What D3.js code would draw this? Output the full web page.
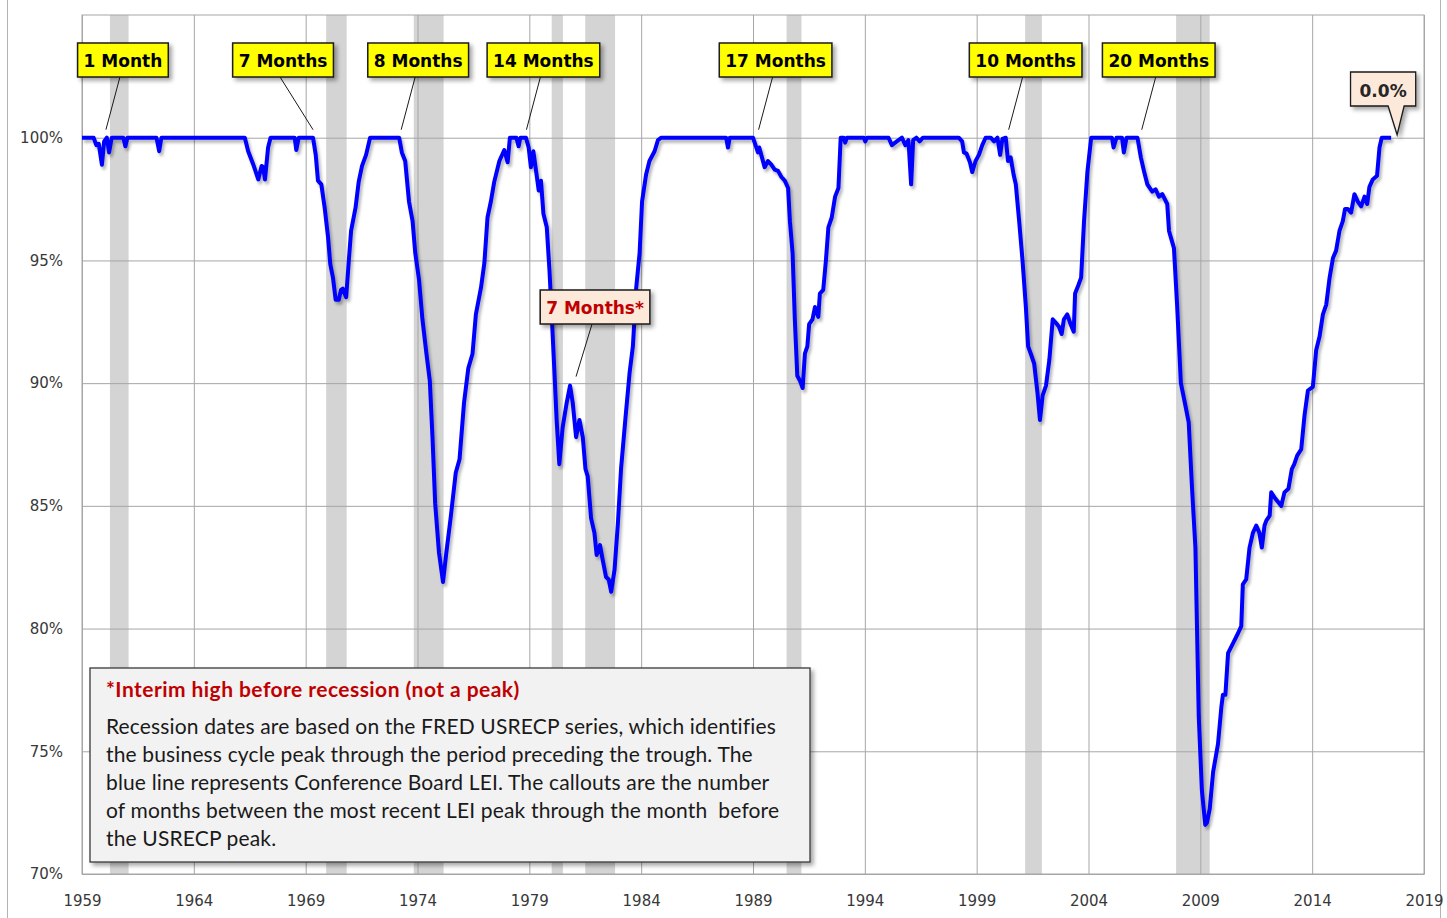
<!DOCTYPE html>
<html>
<head>
<meta charset="utf-8">
<script src="https://cdn.jsdelivr.net/npm/d3@7"></script>
<style>
  body { margin: 0; background: #fff; }
  .axis text { font-family: "DejaVu Sans", sans-serif; font-size: 15px; fill: #383838; }
  .axis line, .axis path { stroke: #a6a6a6; }
</style>
</head>
<body>
<svg id="chart"></svg>
<script>
// LEI as a percentage of its most recent peak: [decimal year, pct]
const leiPoints = [
  [1959.0, 100], [1959.52, 100], [1959.64, 99.7], [1959.75, 99.75], [1959.89, 98.9], [1959.99, 99.85],
  [1960.11, 100], [1960.21, 99.4], [1960.33, 100], [1960.85, 100], [1960.94, 99.65], [1961.03, 100],
  [1962.33, 100], [1962.45, 99.45], [1962.55, 100], [1966.28, 100], [1966.43, 99.45], [1966.66, 98.9],
  [1966.88, 98.3], [1967.03, 98.85], [1967.1, 98.8], [1967.18, 98.3], [1967.32, 99.6], [1967.43, 100],
  [1968.51, 100], [1968.58, 99.5], [1968.69, 100], [1969.33, 100], [1969.45, 99.3], [1969.55, 98.25],
  [1969.7, 98.1], [1969.85, 97.15], [1970.0, 95.95], [1970.1, 94.85], [1970.22, 94.3], [1970.34, 93.4],
  [1970.48, 93.4], [1970.58, 93.8], [1970.66, 93.85], [1970.81, 93.5], [1970.93, 95.0], [1971.03, 96.2],
  [1971.23, 97.15], [1971.37, 98.2], [1971.52, 98.85], [1971.7, 99.3], [1971.88, 100], [1973.18, 100],
  [1973.3, 99.4], [1973.45, 99.05], [1973.62, 97.4], [1973.78, 96.6], [1973.9, 95.3], [1974.07, 94.2],
  [1974.22, 92.6], [1974.4, 91.2], [1974.55, 90.1], [1974.67, 87.8], [1974.79, 85.1], [1974.96, 83.1],
  [1975.14, 81.9], [1975.29, 83.1], [1975.48, 84.5], [1975.71, 86.35], [1975.88, 86.9], [1976.08, 89.2],
  [1976.27, 90.6], [1976.46, 91.2], [1976.61, 92.8], [1976.84, 93.9], [1976.99, 94.9], [1977.13, 96.75],
  [1977.28, 97.4], [1977.43, 98.2], [1977.66, 99.05], [1977.88, 99.5], [1978.03, 99.0], [1978.13, 100],
  [1978.42, 100], [1978.52, 99.65], [1978.6, 100], [1978.85, 100], [1978.97, 99.6], [1979.07, 98.8],
  [1979.18, 99.45], [1979.3, 98.65], [1979.42, 97.85], [1979.52, 98.25], [1979.63, 96.9], [1979.78, 96.35],
  [1979.9, 94.6], [1980.01, 92.6], [1980.12, 90.5], [1980.22, 88.5], [1980.34, 86.7], [1980.49, 88.2],
  [1980.67, 89.2], [1980.82, 89.9], [1980.94, 89.2], [1981.09, 87.8], [1981.24, 88.5], [1981.39, 87.8],
  [1981.51, 86.5], [1981.61, 86.2], [1981.76, 84.5], [1981.91, 83.9], [1982.01, 83.0], [1982.16, 83.4],
  [1982.28, 82.8], [1982.43, 82.1], [1982.55, 82.0], [1982.66, 81.5], [1982.81, 82.4], [1982.96, 84.3],
  [1983.1, 86.5], [1983.3, 88.6], [1983.48, 90.4], [1983.63, 91.5], [1983.78, 93.9], [1983.93, 95.3],
  [1984.04, 97.4], [1984.22, 98.5], [1984.37, 99.05], [1984.6, 99.45], [1984.75, 99.9], [1984.9, 100],
  [1987.8, 100], [1987.88, 99.6], [1987.96, 100], [1989.0, 100], [1989.15, 99.6], [1989.22, 99.4],
  [1989.28, 99.6], [1989.37, 99.3], [1989.52, 98.8], [1989.67, 99.05], [1989.82, 98.9], [1989.97, 98.7],
  [1990.12, 98.65], [1990.27, 98.4], [1990.42, 98.25], [1990.57, 97.95], [1990.65, 96.6], [1990.77, 95.3],
  [1990.87, 92.6], [1990.98, 90.3], [1991.1, 90.1], [1991.22, 89.8], [1991.32, 91.2], [1991.43, 91.5],
  [1991.51, 92.4], [1991.66, 92.6], [1991.77, 93.1], [1991.92, 92.7], [1991.99, 93.65], [1992.14, 93.8],
  [1992.26, 95.0], [1992.37, 96.35], [1992.52, 96.75], [1992.67, 97.6], [1992.82, 97.95], [1992.92, 100],
  [1993.05, 100], [1993.12, 99.8], [1993.2, 100], [1993.95, 100], [1994.02, 99.85], [1994.1, 100],
  [1995.06, 100], [1995.21, 99.7], [1995.43, 99.85], [1995.66, 100], [1995.81, 99.7], [1995.95, 99.9],
  [1996.07, 98.1], [1996.16, 99.9], [1996.3, 100], [1996.45, 99.85], [1996.6, 100], [1998.2, 100],
  [1998.35, 99.85], [1998.43, 99.4], [1998.55, 99.35], [1998.7, 99.0], [1998.8, 98.6], [1998.95, 99.05],
  [1999.1, 99.3], [1999.25, 99.7], [1999.4, 100], [1999.63, 100], [1999.78, 99.85], [1999.93, 100],
  [2000.05, 99.3], [2000.15, 99.95], [2000.3, 100], [2000.4, 99.05], [2000.52, 99.2], [2000.65, 98.5],
  [2000.75, 98.1], [2000.9, 96.6], [2001.05, 95.0], [2001.2, 93.1], [2001.3, 91.5], [2001.42, 91.2],
  [2001.57, 90.8], [2001.72, 89.6], [2001.83, 88.5], [2001.95, 89.5], [2002.1, 89.9], [2002.25, 90.95],
  [2002.4, 92.6], [2002.55, 92.45], [2002.68, 92.3], [2002.8, 92.0], [2002.9, 92.6], [2003.05, 92.8],
  [2003.2, 92.4], [2003.34, 92.1], [2003.4, 93.65], [2003.55, 94.0], [2003.67, 94.3], [2003.8, 96.6],
  [2003.95, 98.6], [2004.12, 100], [2005.05, 100], [2005.12, 99.6], [2005.25, 100], [2005.5, 100],
  [2005.58, 99.4], [2005.7, 100], [2006.19, 100], [2006.34, 99.2], [2006.49, 98.6], [2006.63, 98.1],
  [2006.85, 97.8], [2007.0, 97.9], [2007.15, 97.6], [2007.3, 97.7], [2007.52, 97.3], [2007.6, 96.2],
  [2007.82, 95.5], [2007.96, 93.2], [2008.13, 90.0], [2008.33, 89.1], [2008.48, 88.4], [2008.63, 85.7],
  [2008.78, 83.3], [2008.85, 80.1], [2008.93, 76.4], [2009.07, 73.4], [2009.22, 72.0], [2009.3, 72.1],
  [2009.42, 72.65], [2009.57, 74.15], [2009.79, 75.3], [2009.94, 76.8], [2010.01, 77.3], [2010.12, 77.3],
  [2010.24, 79.0], [2010.46, 79.4], [2010.68, 79.8], [2010.83, 80.1], [2010.9, 81.8], [2011.05, 82.0],
  [2011.2, 83.3], [2011.35, 83.9], [2011.5, 84.2], [2011.64, 83.9], [2011.75, 83.3], [2011.87, 84.2],
  [2011.95, 84.4], [2012.1, 84.6], [2012.17, 85.55], [2012.35, 85.3], [2012.62, 85.0], [2012.76, 85.55],
  [2012.94, 85.7], [2013.09, 86.5], [2013.2, 86.7], [2013.33, 87.05], [2013.51, 87.3], [2013.66, 88.7],
  [2013.81, 89.7], [2014.03, 89.85], [2014.18, 91.35], [2014.33, 91.9], [2014.48, 92.8], [2014.63, 93.2],
  [2014.78, 94.3], [2014.93, 95.1], [2015.07, 95.4], [2015.22, 96.2], [2015.37, 96.6], [2015.47, 97.1],
  [2015.59, 97.1], [2015.74, 96.95], [2015.89, 97.7], [2016.04, 97.4], [2016.19, 97.2], [2016.34, 97.6],
  [2016.46, 97.3], [2016.56, 98.0], [2016.71, 98.3], [2016.9, 98.45], [2017.01, 99.6], [2017.11, 100],
  [2017.53, 100]
];

// USRECP recession periods (first month, month after last)
const recessions = [
  ["1960-04", "1961-02"], ["1969-12", "1970-11"], ["1973-11", "1975-03"], ["1980-01", "1980-07"],
  ["1981-07", "1982-11"], ["1990-07", "1991-03"], ["2001-03", "2001-12"], ["2007-12", "2009-06"]
];

const yearTicks = [1959, 1964, 1969, 1974, 1979, 1984, 1989, 1994, 1999, 2004, 2009, 2014, 2019];
const pctTicks = [70, 75, 80, 85, 90, 95, 100];

// months between LEI peak and the month before the USRECP peak
const peakCallouts = [
  { label: "1 Month", year: 1960.07, pct: 100 },
  { label: "7 Months", year: 1969.33, pct: 100 },
  { label: "8 Months", year: 1973.27, pct: 100 },
  { label: "14 Months", year: 1978.87, pct: 100 },
  { label: "17 Months", year: 1989.25, pct: 100 },
  { label: "10 Months", year: 2000.43, pct: 100 },
  { label: "20 Months", year: 2006.38, pct: 100 }
];
const interimCallout = { label: "7 Months*", year: 1980.82, pct: 89.9 };
const latestCallout = { label: "0.0%", year: 2017.53, pct: 100 };

const noteTitle = "*Interim high before recession (not a peak)";
const noteLines = [
  "Recession dates are based on the FRED USRECP series, which identifies",
  "the business cycle peak through the period preceding the trough. The",
  "blue line represents Conference Board LEI. The callouts are the number",
  "of months between the most recent LEI peak through the month  before",
  "the USRECP peak."
];

class LeiChart {
  constructor(_config) {
    this.config = {
      parentElement: _config.parentElement,
      containerWidth: _config.containerWidth || 1447,
      containerHeight: _config.containerHeight || 918,
      margin: { top: 15, right: 23, bottom: 44, left: 82 }
    };
    this.initVis();
  }

  initVis() {
    let vis = this;
    vis.width = vis.config.containerWidth - vis.config.margin.left - vis.config.margin.right;
    vis.height = vis.config.containerHeight - vis.config.margin.top - vis.config.margin.bottom;

    vis.svg = d3.select(vis.config.parentElement)
      .attr('width', vis.config.containerWidth)
      .attr('height', vis.config.containerHeight);

    let defs = vis.svg.append('defs');
    defs.append('filter').attr('id', 'lineShadow')
      .attr('x', '-5%').attr('y', '-5%').attr('width', '110%').attr('height', '110%')
      .append('feDropShadow')
      .attr('dx', 2).attr('dy', 3).attr('stdDeviation', 1.8)
      .attr('flood-color', '#000').attr('flood-opacity', 0.3);
    defs.append('filter').attr('id', 'boxShadow')
      .attr('x', '-20%').attr('y', '-20%').attr('width', '150%').attr('height', '160%')
      .append('feDropShadow')
      .attr('dx', 3).attr('dy', 3).attr('stdDeviation', 2)
      .attr('flood-color', '#000').attr('flood-opacity', 0.35);

    // outer chart frame
    vis.svg.append('rect')
      .attr('x', 7.5).attr('y', -5)
      .attr('width', 1433).attr('height', vis.config.containerHeight + 10)
      .attr('fill', 'none').attr('stroke', '#b4b4b4');

    vis.chart = vis.svg.append('g')
      .attr('transform', `translate(${vis.config.margin.left},${vis.config.margin.top})`);

    vis.xScale = d3.scaleLinear().domain([1959, 2019]).range([0, vis.width]);
    vis.yScale = d3.scaleLinear().domain([70, 105]).range([vis.height, 0]);

    vis.updateVis();
  }

  updateVis() {
    let vis = this;
    const monthToYear = s => {
      const [yy, mm] = s.split('-').map(Number);
      return yy + (mm - 1) / 12;
    };

    vis.chart.selectAll('.recession')
      .data(recessions)
      .enter()
      .append('rect')
      .attr('class', 'recession')
      .attr('x', d => vis.xScale(monthToYear(d[0])))
      .attr('width', d => vis.xScale(monthToYear(d[1])) - vis.xScale(monthToYear(d[0])))
      .attr('y', 0)
      .attr('height', vis.height)
      .attr('fill', '#d4d4d4');

    let xAxis = d3.axisBottom(vis.xScale)
      .tickValues(yearTicks)
      .tickFormat(d3.format('d'))
      .tickSize(-vis.height)
      .tickSizeOuter(0)
      .tickPadding(21);
    let yAxis = d3.axisLeft(vis.yScale)
      .tickValues(pctTicks)
      .tickFormat(d => d + '%')
      .tickSize(-vis.width)
      .tickSizeOuter(0)
      .tickPadding(19);

    vis.chart.append('g').attr('class', 'axis')
      .attr('transform', `translate(0,${vis.height})`)
      .call(xAxis);
    vis.chart.append('g').attr('class', 'axis')
      .call(yAxis);

    // plot border (top and right)
    vis.chart.append('rect')
      .attr('width', vis.width).attr('height', vis.height)
      .attr('fill', 'none').attr('stroke', '#a6a6a6');

    let line = d3.line()
      .x(d => vis.xScale(d[0]))
      .y(d => vis.yScale(d[1]));

    vis.chart.append('path')
      .datum(leiPoints)
      .attr('d', line)
      .attr('fill', 'none')
      .attr('stroke', '#0000ff')
      .attr('stroke-width', 4)
      .attr('stroke-linejoin', 'round')
      .attr('filter', 'url(#lineShadow)');

    // callouts for the LEI peaks
    const shift = { "7 Months": -30 };
    peakCallouts.forEach(c => {
      let ax = vis.xScale(c.year), ay = vis.yScale(c.pct);
      let cx = ax + (shift[c.label] !== undefined ? shift[c.label] : 17);
      vis.drawCallout(c.label, cx, 28, ax, ay - 8, '#ffff00', '#000');
    });
    let ic = interimCallout;
    vis.drawCallout(ic.label, vis.xScale(ic.year) + 25, 275,
      vis.xScale(ic.year) + 6, vis.yScale(ic.pct) - 9, '#fde9d9', '#c00000');

    // latest reading, speech bubble
    let lx = vis.xScale(latestCallout.year) + 6, ly = vis.yScale(latestCallout.pct) - 3;
    let g = vis.chart.append('g');
    let bx = lx - 14;
    let txt = g.append('text')
      .attr('x', bx).attr('y', 82)
      .attr('text-anchor', 'middle')
      .style('font-family', 'DejaVu Sans, sans-serif')
      .style('font-weight', 'bold').style('font-size', '17px')
      .attr('fill', '#262626')
      .text(latestCallout.label);
    let tw = txt.node().getComputedTextLength() + 18;
    g.insert('path', 'text')
      .attr('d', `M${bx - tw / 2},57 H${bx + tw / 2} V91 H${lx + 7} L${lx},${ly} L${lx - 9},91 H${bx - tw / 2} Z`)
      .attr('fill', '#fde9d9').attr('stroke', '#1a1a1a').attr('stroke-width', 1.3)
      .attr('filter', 'url(#boxShadow)');

    // note box
    let note = vis.chart.append('g').attr('transform', 'translate(8,653)');
    note.append('rect')
      .attr('width', 720).attr('height', 194)
      .attr('fill', '#f2f2f2').attr('stroke', '#3a3a3a').attr('stroke-width', 1.3)
      .attr('filter', 'url(#boxShadow)');
    note.append('text')
      .attr('x', 16).attr('y', 29)
      .style('font-family', 'Lato, sans-serif').style('font-size', '21px').style('font-weight', 'bold')
      .style('letter-spacing', '0.45px')
      .attr('fill', '#c00000')
      .text(noteTitle);
    note.selectAll('.noteLine')
      .data(noteLines)
      .enter()
      .append('text')
      .attr('class', 'noteLine')
      .attr('x', 16)
      .attr('y', (d, i) => 66 + i * 28)
      .style('font-family', 'Lato, sans-serif').style('font-size', '21px')
      .style('letter-spacing', '0.15px')
      .style('white-space', 'pre')
      .attr('fill', '#1a1a1a')
      .text(d => d);
  }

  drawCallout(label, cx, top, ax, ay, fill, color) {
    let vis = this;
    let g = vis.chart.append('g');
    g.append('line')
      .attr('x1', cx - 3).attr('y1', top + 34)
      .attr('x2', ax).attr('y2', ay)
      .attr('stroke', '#1a1a1a').attr('stroke-width', 1);
    let txt = g.append('text')
      .attr('x', cx).attr('y', top + 24)
      .attr('text-anchor', 'middle')
      .style('font-family', 'DejaVu Sans, sans-serif')
      .style('font-weight', 'bold').style('font-size', '17px')
      .attr('fill', color)
      .text(label);
    let tw = txt.node().getComputedTextLength() + 12;
    g.insert('rect', 'text')
      .attr('x', cx - tw / 2).attr('y', top)
      .attr('width', tw).attr('height', 34)
      .attr('fill', fill).attr('stroke', '#1a1a1a').attr('stroke-width', 1.5)
      .attr('filter', 'url(#boxShadow)');
  }
}

new LeiChart({ parentElement: '#chart' });
</script>
</body>
</html>
